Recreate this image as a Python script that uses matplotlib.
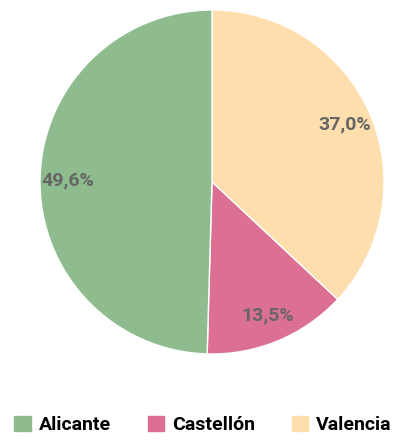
import matplotlib
matplotlib.use("Agg")
import matplotlib.pyplot as plt
import numpy as np
from matplotlib.patches import Patch

labels = ["Valencia", "Castellón", "Alicante"]
values = [37.0, 13.5, 49.6]
colors = ["#ffdead", "#db7093", "#8fbc8f"]
pct_text = ["37,0%", "13,5%", "49,6%"]

legend_labels = ["Alicante", "Castellón", "Valencia"]
legend_colors = ["#8fbc8f", "#db7093", "#ffdead"]

fig = plt.figure(figsize=(4.06, 4.41), dpi=100)
ax = fig.add_axes([40 / 406, 1 - 354 / 441, 344 / 406, 344 / 441])

wedges, _ = ax.pie(values, colors=colors, startangle=90, counterclock=False,
                   wedgeprops=dict(linewidth=1, edgecolor="white"))
for w, t in zip(wedges, pct_text):
    ang = np.deg2rad((w.theta1 + w.theta2) / 2)
    ax.text(0.84 * np.cos(ang), 0.84 * np.sin(ang), t, ha="center", va="center",
            color="#666666", fontsize=14, fontweight="bold", family="Roboto")
ax.set_xlim(-1, 1)
ax.set_ylim(-1, 1)
ax.set_aspect("equal")

handles = [Patch(color=c) for c in legend_colors]
fig.legend(handles, legend_labels, loc="center",
           bbox_to_anchor=(0.5, 1 - 425 / 441), ncol=3, frameon=False,
           prop=dict(family="Roboto", weight="bold", size=14),
           handlelength=0.85, handleheight=0.85, columnspacing=1.9, handletextpad=0.4)
fig.savefig("out.png", dpi=100)
